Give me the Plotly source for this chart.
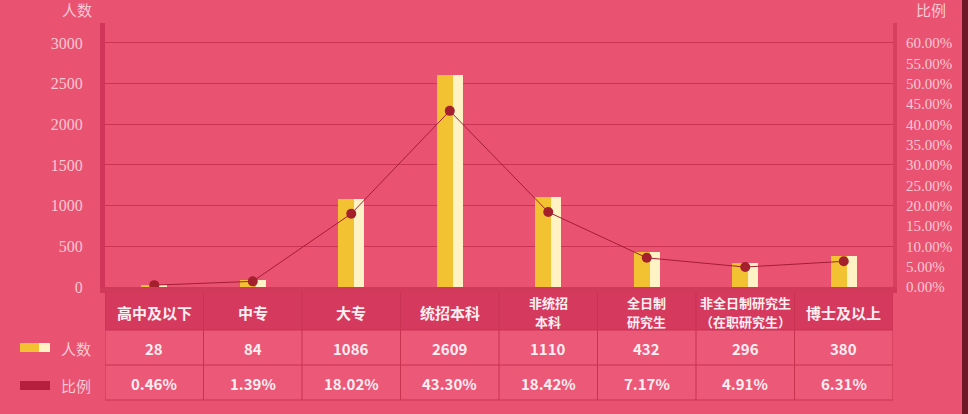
import plotly.graph_objects as go

# data
categories = ["高中及以下", "中专", "大专", "统招本科", "非统招本科", "全日制研究生", "非全日制研究生", "博士及以上"]
header_labels = [["高中及以下"], ["中专"], ["大专"], ["统招本科"], ["非统招", "本科"], ["全日制", "研究生"],
                 ["非全日制研究生", "（在职研究生）"], ["博士及以上"]]
counts = [28, 84, 1086, 2609, 1110, 432, 296, 380]
ratios = [0.46, 1.39, 18.02, 43.30, 18.42, 7.17, 4.91, 6.31]

W, H = 968, 414
L, R, T, B = 105, 75, 23, 0
BG = "#EA5272"
TICK = "#F9C9D3"
TXT = "#FDEEF1"
LINE = "#C93352"
CJK = "Noto Sans CJK SC"


def px(x):
    return (x - L) / (W - L - R)


def py(y):
    return (H - B - y) / (H - T - B)


def label(text, x, y, size, color, xref="paper"):
    fig.add_annotation(text=text, x=x, y=y, xref=xref, yref="paper", showarrow=False,
                       xanchor="center", yanchor="middle",
                       font=dict(family=CJK, size=size, color=color))


fig = go.Figure()

# bars: gold body + cream highlight on the right
fig.add_trace(go.Bar(
    x=categories, y=counts, name="人数",
    width=0.26, offset=-0.13,
    marker=dict(color="#F2C232", line=dict(width=0)),
    showlegend=False,
))
fig.add_trace(go.Bar(
    x=categories, y=counts, name="人数",
    width=0.10, offset=0.03,
    marker=dict(color="#FFF3C6", line=dict(width=0)),
    showlegend=False, hoverinfo="skip",
))
fig.add_trace(go.Scatter(
    x=categories, y=ratios, name="比例", yaxis="y2",
    mode="lines+markers",
    line=dict(color="#A51E34", width=1),
    marker=dict(color="#A3202C", size=10),
    showlegend=False,
))

fig.update_layout(
    width=W, height=H,
    margin=dict(l=L, r=R, t=T, b=B, autoexpand=False),
    paper_bgcolor=BG, plot_bgcolor=BG,
    barmode="overlay",
    bargap=0,
    xaxis=dict(
        type="category", showticklabels=False, showgrid=False,
        showline=True, linecolor="#D23A5C", linewidth=6,
        zeroline=False, range=[-0.5, 7.5], automargin=False,
    ),
    yaxis=dict(
        range=[0, 3245], dtick=500, domain=[py(287), 1], automargin=False,
        showgrid=True, gridcolor="#CC3455", gridwidth=1,
        showline=True, linecolor="#D0355A", linewidth=5,
        zeroline=False, ticks="", ticklabelstandoff=14,
        tickfont=dict(family="Liberation Serif", size=16, color=TICK),
    ),
    yaxis2=dict(
        range=[0, 64.9], dtick=5, overlaying="y", side="right", automargin=False,
        showgrid=False, zeroline=False,
        showline=True, linecolor="#D8405F", linewidth=4,
        tickformat=".2f", ticksuffix="%", ticks="", ticklabelstandoff=6,
        tickfont=dict(family="Liberation Serif", size=15, color=TICK),
    ),
)

# data table under the chart, drawn with shapes and annotations on the category axis
top, head_bot, mid, bot = 292, 330, 365, 400
fig.add_shape(type="rect", xref="x", yref="paper", x0=-0.5, x1=7.5, y0=py(head_bot), y1=py(top),
              fillcolor="#D5395E", line=dict(width=0), layer="below")
fig.add_shape(type="rect", xref="x", yref="paper", x0=-0.5, x1=7.5, y0=py(bot), y1=py(head_bot),
              fillcolor="#EC5878", line=dict(width=0), layer="below")
for k in range(len(categories) + 1):
    fig.add_shape(type="line", xref="x", yref="paper", x0=k - 0.5, x1=k - 0.5, y0=py(bot), y1=py(top),
                  line=dict(color=LINE, width=1))
for yy in (head_bot, mid, bot):
    fig.add_shape(type="line", xref="x", yref="paper", x0=-0.5, x1=7.5, y0=py(yy), y1=py(yy),
                  line=dict(color=LINE, width=1))

for cat, lines, c, r in zip(categories, header_labels, counts, ratios):
    if len(lines) == 1:
        label("<b>%s</b>" % lines[0], cat, py(312), 15, TXT, xref="x")
    else:
        label("<b>%s</b>" % lines[0], cat, py(302), 13, TXT, xref="x")
        label("<b>%s</b>" % lines[1], cat, py(321), 13, TXT, xref="x")
    label("<b>%d</b>" % c, cat, py(348), 15, TXT, xref="x")
    label("<b>%.2f%%</b>" % r, cat, py(383), 15, TXT, xref="x")

# axis titles
label("人数", px(77), py(10), 15, TICK)
label("比例", px(931), py(10), 15, TICK)

# left-hand legend for the table rows
fig.add_shape(type="rect", xref="paper", yref="paper", x0=px(20), x1=px(39), y0=py(352), y1=py(343),
              fillcolor="#F2C232", line=dict(width=0))
fig.add_shape(type="rect", xref="paper", yref="paper", x0=px(39), x1=px(50), y0=py(352), y1=py(343),
              fillcolor="#FFF3C6", line=dict(width=0))
fig.add_shape(type="rect", xref="paper", yref="paper", x0=px(20), x1=px(50), y0=py(390), y1=py(381),
              fillcolor="#B71F3E", line=dict(width=0))
label("人数", px(76), py(348), 15, TICK)
label("比例", px(76), py(385), 15, TICK)

# dark frame edge on the right
fig.add_shape(type="rect", xref="paper", yref="paper", x0=px(962), x1=px(968), y0=0, y1=py(0),
              fillcolor="#6E1828", line=dict(width=0), layer="above")

fig.write_html("out.html", config={"displayModeBar": False},
               post_script="document.body.style.margin='0';")
